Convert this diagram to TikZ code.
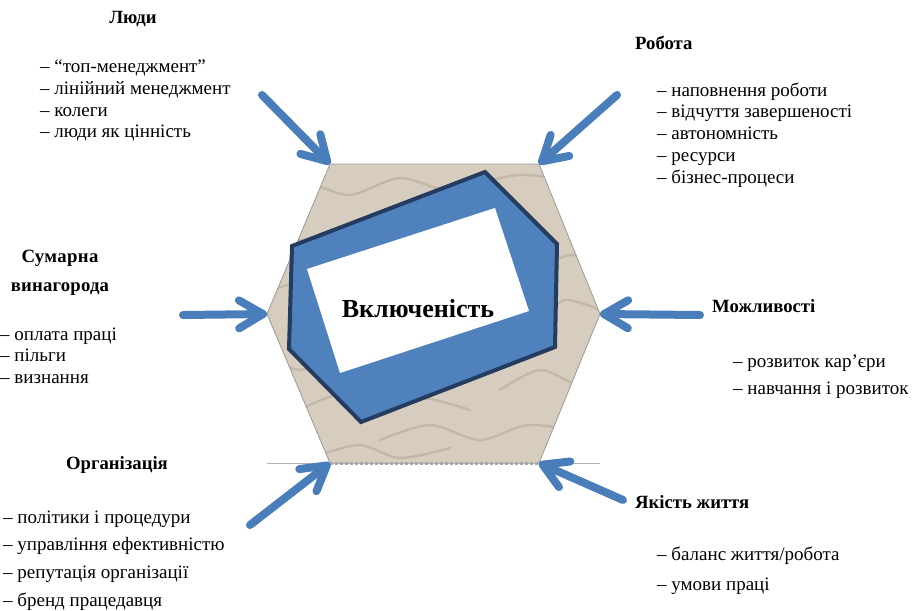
\documentclass[tikz,border=0pt]{standalone}
\usepackage{fontspec}
\setmainfont{Liberation Serif}
\usetikzlibrary{arrows.meta}
\definecolor{arrblue}{RGB}{74,126,187}
\definecolor{shapeblue}{RGB}{79,129,189}
\definecolor{navy}{RGB}{36,60,96}
\definecolor{paper}{RGB}{214,205,190}
\definecolor{paperdark}{RGB}{180,168,150}
\tikzset{
  hdr/.style={font=\bfseries\fontsize{18.7}{21}\selectfont, inner sep=0pt},
  itm/.style={font=\fontsize{19}{21}\selectfont, inner sep=0pt, anchor=base west},
  bigarrow/.style={draw=arrblue, line width=8pt, line cap=round,
    -{Straight Barb[length=24pt,width=28pt,round]}},
  hexedge/.style={draw=gray!80, line width=0.8pt},
  texture/.style={draw=paperdark, line width=2.4pt, opacity=0.55, line cap=round},
}
\begin{document}
\begin{tikzpicture}[x=1pt,y=-1pt]
\useasboundingbox (0,0) rectangle (912,610);
% hexagon corners
\coordinate (hTL) at (330,164);
\coordinate (hTR) at (539,164);
\coordinate (hR) at (600,314);
\coordinate (hBR) at (539,463);
\coordinate (hBL) at (330,463);
\coordinate (hL) at (267,314);
\fill[paper] (hTL) -- (hTR) -- (hR) -- (hBR) -- (hBL) -- (hL) -- cycle;
\begin{scope}
\clip (hTL) -- (hTR) -- (hR) -- (hBR) -- (hBL) -- (hL) -- cycle;
\draw[texture] plot[smooth] coordinates {(270,200) (310,185) (350,195) (400,178) (450,190) (520,175) (600,185)};
\draw[texture] plot[smooth] coordinates {(260,260) (300,240) (330,255) (380,235)};
\draw[texture] plot[smooth] coordinates {(250,300) (290,285) (320,300) (350,280)};
\draw[texture] plot[smooth] coordinates {(540,270) (570,255) (610,265)};
\draw[texture] plot[smooth] coordinates {(260,350) (300,370) (340,350) (380,372)};
\draw[texture] plot[smooth] coordinates {(300,410) (340,395) (380,415) (420,398) (470,410)};
\draw[texture] plot[smooth] coordinates {(380,440) (430,425) (480,440) (530,425) (600,435)};
\draw[texture] plot[smooth] coordinates {(500,390) (540,370) (580,385) (610,370)};
\draw[texture] plot[smooth] coordinates {(320,455) (360,445) (400,458) (450,448)};
\draw[texture] plot[smooth] coordinates {(540,320) (565,300) (600,310)};
\end{scope}
\draw[hexedge] (hTL) -- (hTR) -- (hR) -- (hBR) (hBL) -- (hL) -- (hTL);
\draw[gray!60, line width=0.8pt] (hL |- hBL) -- (hR |- hBR);
\draw[gray!70, line width=3pt, dotted] (hBL) -- (hBR);
% blue shape
\draw[fill=shapeblue, draw=navy, line width=4pt, line join=miter]
  (292,246) -- (485,172) -- (557,244) -- (555,347) -- (361,422) -- (289,349) -- cycle;
\fill[white] (307,269) -- (495,208) -- (529,311) -- (340,373) -- cycle;
\node[font=\bfseries\fontsize{26}{30}\selectfont, inner sep=0pt] (incl) at (418,309) {Включеність};
% arrows
\coordinate (aTL) at (262,95);
\coordinate (aTR) at (617,95);
\coordinate (aL) at (183,315);
\coordinate (aR) at (700,315);
\coordinate (aBL) at (250,525);
\coordinate (aBR) at (623,500);
\draw[bigarrow] (aTL) -- (hTL);
\draw[bigarrow] (aTR) -- (hTR);
\draw[bigarrow] (aL) -- (hL);
\draw[bigarrow] (aR) -- (hR);
\draw[bigarrow] (aBL) -- (hBL);
\draw[bigarrow] (aBR) -- (hBR);
% Люди
\node[hdr, anchor=base] (h1) at (133,24) {Люди};
\foreach \t [count=\i] in {{“топ-менеджмент”},{лінійний менеджмент},{колеги},{люди як цінність}}
  \node[itm] (l1\i) at (40,{73+21.5*(\i-1)}) {– \t};
% Робота
\node[hdr, anchor=base west] (h2) at (635,49) {Робота};
\foreach \t [count=\i] in {{наповнення роботи},{відчуття завершеності},{автономність},{ресурси},{бізнес-процеси}}
  \node[itm] (l2\i) at (657,{96+21.8*(\i-1)}) {– \t};
% Сумарна винагорода
\node[hdr, anchor=base] (h3a) at (60,262) {\addfontfeature{LetterSpace=2}Сумарна};
\node[hdr, anchor=base] (h3b) at (60,291) {\addfontfeature{LetterSpace=1}винагорода};
\foreach \t [count=\i] in {{оплата праці},{пільги},{визнання}}
  \node[itm] (l3\i) at (0,{340+21.5*(\i-1)}) {– \t};
% Можливості
\node[hdr, anchor=base west] (h4) at (712,312) {Можливості};
\foreach \t [count=\i] in {{розвиток кар’єри},{навчання і розвиток}}
  \node[itm] (l4\i) at (733,{367+27*(\i-1)}) {– \t};
% Організація
\node[hdr, anchor=base] (h5) at (117,469) {Організація};
\foreach \t [count=\i] in {{політики і процедури},{управління ефективністю},{репутація організації},{бренд працедавця}}
  \node[itm] (l5\i) at (3,{523+27.8*(\i-1)}) {– \t};
% Якість життя
\node[hdr, anchor=base west] (h6) at (635,508) {Якість життя};
\foreach \t [count=\i] in {{баланс життя/робота},{умови праці}}
  \node[itm] (l6\i) at (657,{560+30*(\i-1)}) {– \t};
\end{tikzpicture}
\end{document}
